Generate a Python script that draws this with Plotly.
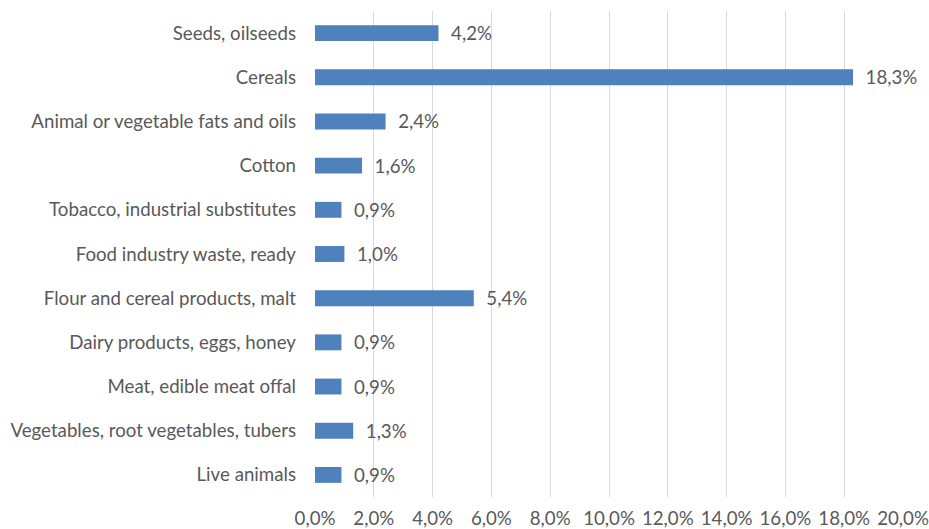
import plotly.graph_objects as go

categories = [
    "Seeds, oilseeds",
    "Cereals",
    "Animal or vegetable fats and oils",
    "Cotton",
    "Tobacco, industrial substitutes",
    "Food industry waste, ready",
    "Flour and cereal products, malt",
    "Dairy products, eggs, honey",
    "Meat, edible meat offal",
    "Vegetables, root vegetables, tubers",
    "Live animals",
]
values = [4.2, 18.3, 2.4, 1.6, 0.9, 1.0, 5.4, 0.9, 0.9, 1.3, 0.9]
tick_vals = [0, 2, 4, 6, 8, 10, 12, 14, 16, 18, 20]
tick_text = ["0,0%", "2,0%", "4,0%", "6,0%", "8,0%", "10,0%", "12,0%", "14,0%", "16,0%", "18,0%", "20,0%"]

font_family = "Lato, 'Open Sans', sans-serif"
gray = "#595959"
fsize = 18.7

fig = go.Figure(
    go.Bar(
        y=categories,
        x=values,
        orientation="h",
        marker=dict(color="#4f81bd", line=dict(width=0)),
        width=0.36,
        text=values,
        texttemplate="  %{x:.1f}%",
        textposition="outside",
        constraintext="none",
        cliponaxis=False,
        textfont=dict(family=font_family, size=fsize, color=gray),
    )
)

fig.update_layout(
    width=929,
    height=529,
    margin=dict(l=315, r=26, t=11, b=32),
    plot_bgcolor="white",
    paper_bgcolor="white",
    separators=", ",
    showlegend=False,
    font=dict(family=font_family, size=fsize, color=gray),
    xaxis=dict(
        range=[0, 20],
        tickvals=tick_vals,
        ticktext=tick_text,
        showgrid=True,
        gridcolor="#d9d9d9",
        gridwidth=1,
        zeroline=False,
        showline=False,
        ticks="",
        automargin=False,
        ticklabelstandoff=8,
        tickfont=dict(family=font_family, size=fsize, color=gray),
        fixedrange=True,
    ),
    yaxis=dict(
        categoryorder="array",
        categoryarray=categories[::-1],
        autorange=False,
        range=[-0.5, len(categories) - 0.5],
        showgrid=False,
        zeroline=False,
        showline=False,
        ticks="",
        automargin=False,
        ticklabelstandoff=18,
        tickfont=dict(family=font_family, size=fsize, color=gray),
        fixedrange=True,
    ),
)

fig.write_html(
    "out.html",
    config={"displayModeBar": False},
    post_script="document.body.style.margin='0';document.body.style.overflow='hidden';",
)
